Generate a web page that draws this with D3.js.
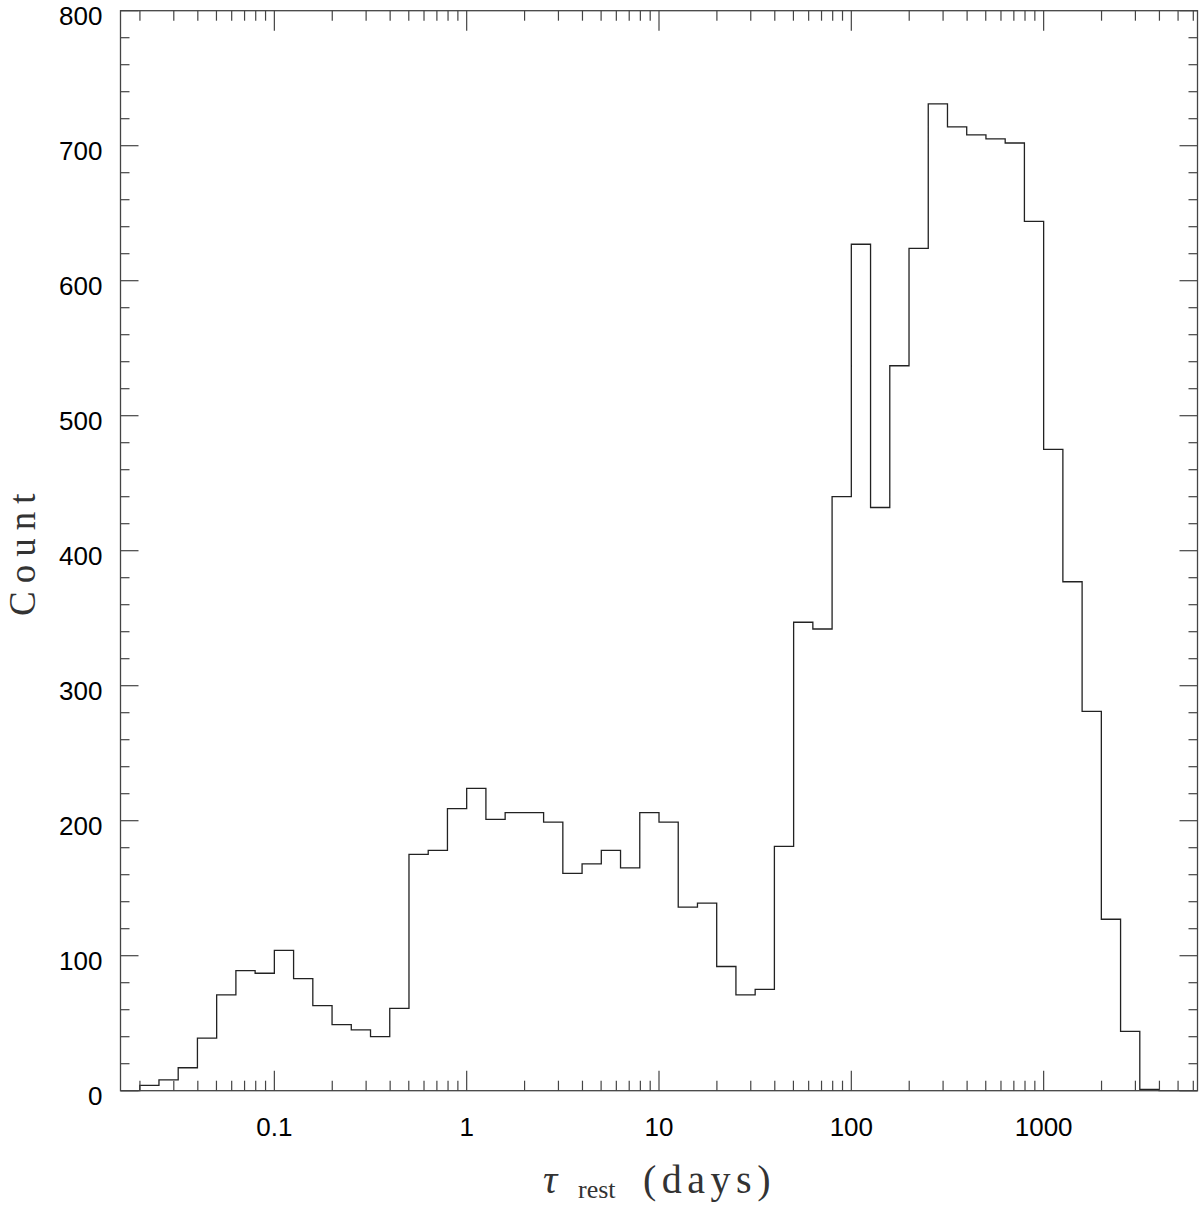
<!DOCTYPE html>
<html>
<head>
<meta charset="utf-8">
<script src="https://cdn.jsdelivr.net/npm/d3@7"></script>
<style>
  body { margin: 0; background: #fff; }
  svg { display: block; }
</style>
</head>
<body>
<script>
// histogram bins are 0.1 dex wide, left edges in log10(days)
const binStart = -1.8;
const binWidth = 0.1;
const counts = [
  0, 4, 8, 17, 39, 71, 89, 87, 104, 83, 63, 49, 45, 40, 61,
  175, 178, 209, 224, 201, 206, 206, 199, 161, 168, 178, 165, 206, 199,
  136, 139, 92, 71, 75, 181,
  347, 342, 440, 627, 432, 537, 624, 731, 714, 708, 705, 702, 644,
  475, 377, 281, 127, 44, 1, 0, 0, 0
];
const xTickValues = [0.1, 1, 10, 100, 1000];
const xTickLabels = ["0.1", "1", "10", "100", "1000"];
const yTickValues = [0, 100, 200, 300, 400, 500, 600, 700, 800];

const W = 1200, H = 1205;
const margin = {top: 10.7, right: 2.5, bottom: 114.3, left: 120.5};
const width = W - margin.left - margin.right,
  height = H - margin.top - margin.bottom;

const svg = d3.select("body").append("svg")
  .attr("width", W).attr("height", H);

const x = d3.scaleLog()
  .domain([Math.pow(10, -1.8), Math.pow(10, 3.8)])
  .range([margin.left, margin.left + width]);
const y = d3.scaleLinear()
  .domain([0, 800])
  .range([margin.top + height, margin.top]);

const ink = "#222";

// step outline of the histogram
let pts = [];
counts.forEach((c, i) => {
  const lo = Math.pow(10, binStart + i * binWidth);
  const hi = Math.min(Math.pow(10, binStart + (i + 1) * binWidth), x.domain()[1]);
  if (lo >= x.domain()[1]) return;
  pts.push([x(lo), y(c)]);
  pts.push([x(hi), y(c)]);
});
svg.append("path")
  .attr("d", d3.line()(pts))
  .attr("fill", "none")
  .attr("stroke", ink)
  .attr("stroke-width", 1.3);

// frame
svg.append("rect")
  .attr("x", margin.left).attr("y", margin.top)
  .attr("width", width).attr("height", height)
  .attr("fill", "none").attr("stroke", "#444").attr("stroke-width", 1.3);

// x minor + major ticks, bottom and top, pointing inward
let xMinor = [];
for (let e = -2; e <= 3; e++) {
  for (let m = 1; m <= 9; m++) {
    const v = m * Math.pow(10, e);
    if (v >= x.domain()[0] && v <= x.domain()[1]) xMinor.push({v: v, major: m === 1});
  }
}
const gBottom = svg.append("g").attr("transform", `translate(0,${margin.top + height})`);
const gTop = svg.append("g").attr("transform", `translate(0,${margin.top})`);
gBottom.selectAll("line").data(xMinor).enter().append("line")
  .attr("x1", d => x(d.v)).attr("x2", d => x(d.v))
  .attr("y1", 0).attr("y2", d => d.major ? -20 : -10)
  .attr("stroke", "#444").attr("stroke-width", 1.2);
gTop.selectAll("line").data(xMinor).enter().append("line")
  .attr("x1", d => x(d.v)).attr("x2", d => x(d.v))
  .attr("y1", 0).attr("y2", d => d.major ? 20 : 10)
  .attr("stroke", "#444").attr("stroke-width", 1.2);

gBottom.selectAll("text").data(xTickValues).enter().append("text")
  .attr("x", d => x(d)).attr("y", 45)
  .attr("text-anchor", "middle")
  .attr("font-family", "Liberation Sans, Arial, sans-serif")
  .attr("font-size", 26).attr("fill", "#000")
  .text((d, i) => xTickLabels[i]);

// y ticks every 20, labels every 100, left and right
const yMinor = d3.range(0, 801, 20);
const gLeft = svg.append("g").attr("transform", `translate(${margin.left},0)`);
const gRight = svg.append("g").attr("transform", `translate(${margin.left + width},0)`);
gLeft.selectAll("line").data(yMinor).enter().append("line")
  .attr("y1", d => y(d)).attr("y2", d => y(d))
  .attr("x1", 0).attr("x2", d => d % 100 === 0 ? 18 : 9)
  .attr("stroke", "#444").attr("stroke-width", 1.2);
gRight.selectAll("line").data(yMinor).enter().append("line")
  .attr("y1", d => y(d)).attr("y2", d => y(d))
  .attr("x1", 0).attr("x2", d => d % 100 === 0 ? -18 : -9)
  .attr("stroke", "#444").attr("stroke-width", 1.2);
gLeft.selectAll("text").data(yTickValues).enter().append("text")
  .attr("x", -18).attr("y", d => y(d) + 14)
  .attr("text-anchor", "end")
  .attr("font-family", "Liberation Sans, Arial, sans-serif")
  .attr("font-size", 26).attr("fill", "#000")
  .text(d => d);

// axis titles
const cx = margin.left + width / 2;
const serif = "Liberation Serif, DejaVu Serif, serif";
svg.append("text")
  .attr("x", cx - 116).attr("y", 1193)
  .attr("font-family", serif).attr("font-style", "italic")
  .attr("font-size", 40).attr("fill", "#333")
  .text("τ");
svg.append("text")
  .attr("x", cx - 81).attr("y", 1198)
  .attr("font-family", serif).attr("font-size", 26).attr("fill", "#333")
  .text("rest");
svg.append("text")
  .attr("x", cx - 16).attr("y", 1193)
  .attr("font-family", serif).attr("font-size", 40).attr("fill", "#333")
  .attr("letter-spacing", 5.5)
  .text("(days)");

svg.append("text")
  .attr("transform", `translate(35,${margin.top + height / 2}) rotate(-90)`)
  .attr("text-anchor", "middle")
  .attr("font-family", serif).attr("font-size", 37).attr("fill", "#333")
  .attr("letter-spacing", 8)
  .text("Count");
</script>
</body>
</html>
